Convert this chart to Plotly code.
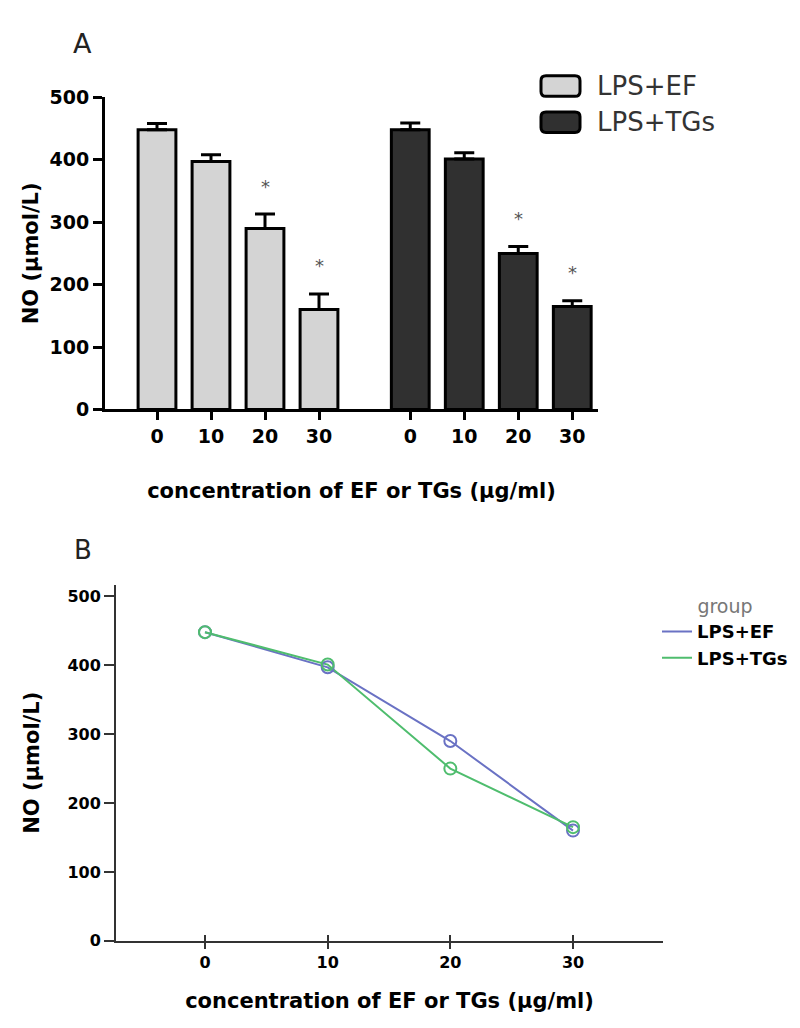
import plotly.graph_objects as go
import numpy as np

# ---------------- data ----------------
conc = [0, 10, 20, 30]
conc_labels = ["0", "10", "20", "30"]
group_names = ["LPS+EF", "LPS+TGs"]
ef_mean = [448, 397, 290, 160]
ef_err = [10, 11, 23, 25]
tg_mean = [448, 401, 250, 165]
tg_err = [11, 10, 11, 9]
ef_sig = [False, False, True, True]
tg_sig = [False, False, True, True]
y_ticks = [0, 100, 200, 300, 400, 500]
y_title = "NO (μmol/L)"
x_title = "concentration of EF or TGs (μg/ml)"

# ---------------- layout helpers ----------------
W, H = 800, 1028
def px(x):
    return x / W
def py(y):
    return 1 - y / H

FONT = "DejaVu Sans"
ef_fill, tg_fill = "#d4d4d4", "#303030"
blue, green = "#6a72c4", "#4fbd6e"

group_gap = 1.69
ef_pos = np.arange(len(conc))
tg_pos = np.arange(len(conc)) + len(conc) - 1 + group_gap

fig = go.Figure()

# Panel A bars
for pos, mean, err, fill in [(ef_pos, ef_mean, ef_err, ef_fill), (tg_pos, tg_mean, tg_err, tg_fill)]:
    fig.add_trace(go.Bar(
        x=pos, y=mean, width=0.7, marker=dict(color=fill, line=dict(color="black", width=3)),
        error_y=dict(type="data", symmetric=False, array=err, arrayminus=[0] * len(err),
                     color="black", thickness=3, width=10),
        showlegend=False, xaxis="x", yaxis="y"))

# significance stars
for pos, mean, err, sig in [(ef_pos, ef_mean, ef_err, ef_sig), (tg_pos, tg_mean, tg_err, tg_sig)]:
    for p, m, e, s in zip(pos, mean, err, sig):
        if s:
            fig.add_annotation(x=p, y=m + e, xref="x", yref="y", text="*", showarrow=False,
                               yshift=28, font=dict(family=FONT, size=18, color="#555"))

# Panel B lines (legend) and open-circle markers
for name, mean, col in [(group_names[0], ef_mean, blue), (group_names[1], tg_mean, green)]:
    fig.add_trace(go.Scatter(x=conc, y=mean, mode="lines", name=name,
                             line=dict(color=col, width=2), xaxis="x2", yaxis="y2"))
for name, mean, col in [(group_names[0], ef_mean, blue), (group_names[1], tg_mean, green)]:
    fig.add_trace(go.Scatter(x=conc, y=mean, mode="markers", name=name, showlegend=False,
                             marker=dict(symbol="circle-open", size=12, color=col, line=dict(width=2)),
                             xaxis="x3", yaxis="y2"))

tickfont = dict(family=FONT, size=19, color="black", weight="bold")
titlefont = dict(family=FONT, size=21, color="black", weight="bold")

a_xrange = [-(149 - 97) / 54, (590 - 149) / 54]
b_scale = (565 - 197) / 30
b_xrange = [(108 - 197) / b_scale, (655 - 197) / b_scale]

fig.update_layout(
    width=W, height=H, margin=dict(l=0, r=0, t=0, b=0),
    paper_bgcolor="white", plot_bgcolor="white",
    xaxis=dict(domain=[px(97), px(590)], range=a_xrange, anchor="y",
               tickvals=list(ef_pos) + list(tg_pos), ticktext=conc_labels * 2,
               showline=True, linecolor="black", linewidth=3, ticks="outside", ticklen=8,
               tickwidth=3, tickcolor="black", showgrid=False, zeroline=False, tickfont=tickfont,
               title=dict(text=x_title, font=titlefont, standoff=38)),
    yaxis=dict(domain=[py(399), py(80)], range=[0, 500], anchor="x", tickvals=y_ticks,
               showline=True, linecolor="black", linewidth=3, ticks="outside", ticklen=9,
               tickwidth=3, tickcolor="black", showgrid=False, zeroline=False, tickfont=tickfont,
               title=dict(text=y_title, font=titlefont, standoff=6)),
    xaxis2=dict(domain=[px(108), px(655)], range=b_xrange, anchor="y2", tickvals=conc,
                ticktext=conc_labels, showline=True, linecolor="#333", linewidth=2,
                ticks="outside", ticklen=6, tickwidth=2, tickcolor="#333", showgrid=False,
                zeroline=False, tickfont=dict(family=FONT, size=16, color="black", weight="bold"),
                title=dict(text=x_title, font=titlefont, standoff=22)),
    xaxis3=dict(domain=[px(108), px(655)], range=b_xrange, anchor="y2", overlaying="x2",
                tickvals=conc, showticklabels=False, showline=False, ticks="inside", ticklen=6,
                tickwidth=2, tickcolor="#333", showgrid=False, zeroline=False),
    yaxis2=dict(domain=[py(942), py(578)], range=[0, 517], anchor="x2", tickvals=y_ticks,
                showline=True, linecolor="#333", linewidth=2, ticks="outside", ticklen=10,
                tickwidth=2, tickcolor="#333", showgrid=False, zeroline=False,
                tickfont=dict(family=FONT, size=16, color="black", weight="bold"),
                title=dict(text=y_title, font=titlefont, standoff=22)),
    legend=dict(x=px(649), y=py(582), xanchor="left", yanchor="top", bgcolor="rgba(0,0,0,0)",
                font=dict(family=FONT, size=18, color="black", weight="bold"),
                title=dict(text="group", side="top center",
                           font=dict(family=FONT, size=19, color="#777", weight="normal")),
                tracegroupgap=0),
)

# Panel A legend (drawn rounded boxes + labels)
rx, ry = 5 / W, 5 / H
for i, (name, fill) in enumerate(zip(group_names, [ef_fill, tg_fill])):
    y0, y1 = 58 + i * 37, 79 + i * 37
    L, R, T, B = px(533), px(572), py(y0), py(y1)
    path = (f"M {L+rx},{T} L {R-rx},{T} Q {R},{T} {R},{T-ry} L {R},{B+ry} Q {R},{B} {R-rx},{B} "
            f"L {L+rx},{B} Q {L},{B} {L},{B+ry} L {L},{T-ry} Q {L},{T} {L+rx},{T} Z")
    fig.add_shape(type="path", xref="paper", yref="paper", path=path,
                  fillcolor=fill, line=dict(color="black", width=3))
    fig.add_annotation(xref="paper", yref="paper", x=px(587), y=py((y0 + y1) / 2), text=name,
                       xanchor="left", yanchor="middle", showarrow=False,
                       font=dict(family=FONT, size=26, color="#333"))

# Panel letters
fig.add_annotation(xref="paper", yref="paper", x=px(74), y=py(25), text="A", showarrow=False,
                   xanchor="center", yanchor="middle", font=dict(family=FONT, size=27, color="#222"))
fig.add_annotation(xref="paper", yref="paper", x=px(75), y=py(543), text="B", showarrow=False,
                   xanchor="center", yanchor="middle", font=dict(family=FONT, size=26, color="#222"))

fig.write_html("out.html")
